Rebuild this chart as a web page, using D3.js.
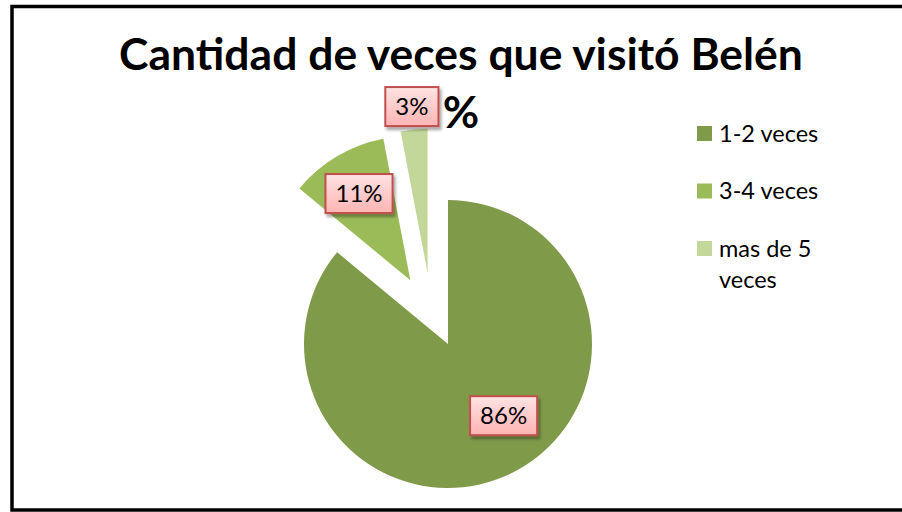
<!DOCTYPE html>
<html>
<head>
<meta charset="utf-8">
<script src="https://cdn.jsdelivr.net/npm/d3@7"></script>
<style>
  body { margin: 0; background: #fff; overflow: hidden; }
  text { font-family: Lato, "Open Sans", sans-serif; }
</style>
</head>
<body>
<svg id="chart" width="902" height="512"></svg>
<script>
// data
var categories = ["1-2 veces", "3-4 veces", "mas de 5 veces"];
var percents = [86, 11, 3];
var legendLines = [["1-2 veces"], ["3-4 veces"], ["mas de 5", "veces"]];
var colors = ["#7f9b4a", "#9bbb59", "#c4d79b"];
var titleLines = ["Cantidad de veces que visitó Belén", "%"];

var W = 902, H = 512;
var cx = 448, cy = 344, r = 144;
// explosion distance and a small turn of its direction, per slice
var explode = [0, 74, 74];
var explodeTurn = [0, 0, -0.185];
// label placement: radius factor and turn from the bisector
var labelR = [0.63, 0.7, 1.16];
var labelTurn = [-0.22, 0, 0];

var svg = d3.select("#chart");

var defs = svg.append("defs");
var grad = defs.append("linearGradient").attr("id", "lblfill")
  .attr("x1", 0).attr("y1", 0).attr("x2", 0).attr("y2", 1);
grad.append("stop").attr("offset", "0%").attr("stop-color", "#ffe3e3");
grad.append("stop").attr("offset", "100%").attr("stop-color", "#ffb4b4");
var shadow = defs.append("filter").attr("id", "shadow")
  .attr("x", "-20%").attr("y", "-20%").attr("width", "150%").attr("height", "160%");
shadow.append("feDropShadow").attr("dx", 2).attr("dy", 3)
  .attr("stdDeviation", 1.5).attr("flood-color", "#000").attr("flood-opacity", 0.35);

// frame
svg.append("rect")
  .attr("x", 12).attr("y", 6.5).attr("width", 900).attr("height", 503.5)
  .attr("fill", "none").attr("stroke", "#000").attr("stroke-width", 3.5);

// title, sized to span the same width as the picture
var title = svg.append("g");
var t1 = title.append("text")
  .attr("x", 461).attr("y", 70)
  .attr("text-anchor", "middle")
  .attr("font-weight", "bold")
  .attr("font-size", 40)
  .text(titleLines[0]);
var w1 = t1.node().getComputedTextLength();
var fs = 40 * 684 / w1;
t1.attr("font-size", fs);
title.append("text")
  .attr("x", 461).attr("y", 128)
  .attr("text-anchor", "middle")
  .attr("font-weight", "bold")
  .attr("font-size", fs)
  .text(titleLines[1]);

// pie
var pie = d3.pie().sort(null).value(function(d) { return d; });
var arcs = pie(percents);
var arc = d3.arc().innerRadius(0).outerRadius(r);

function shift(d, i) {
  var a = (d.startAngle + d.endAngle) / 2 + explodeTurn[i];
  return [Math.sin(a) * explode[i], -Math.cos(a) * explode[i]];
}

var g = svg.append("g").attr("transform", "translate(" + cx + "," + cy + ")");

g.selectAll("path.slice")
  .data(arcs)
  .enter().append("path")
  .attr("class", "slice")
  .attr("d", arc)
  .attr("fill", function(d, i) { return colors[i]; })
  .attr("transform", function(d, i) {
    var s = shift(d, i);
    return "translate(" + s[0] + "," + s[1] + ")";
  });

// data labels
var labels = g.selectAll("g.lbl")
  .data(arcs)
  .enter().append("g")
  .attr("class", "lbl")
  .attr("transform", function(d, i) {
    var s = shift(d, i);
    var a = (d.startAngle + d.endAngle) / 2 + labelTurn[i];
    var lr = r * labelR[i];
    return "translate(" + (Math.sin(a) * lr + s[0]) + "," + (-Math.cos(a) * lr + s[1]) + ")";
  });

labels.each(function(d) {
  var lg = d3.select(this);
  var txt = lg.append("text")
    .attr("text-anchor", "middle")
    .attr("dy", "0.36em")
    .attr("font-size", 24)
    .attr("fill", "#000")
    .text(d.data + "%");
  var tw = txt.node().getComputedTextLength();
  lg.insert("rect", "text")
    .attr("x", -tw / 2 - 10).attr("y", -19.5)
    .attr("width", tw + 20).attr("height", 39)
    .attr("fill", "url(#lblfill)")
    .attr("stroke", "#c0504d").attr("stroke-width", 2)
    .attr("filter", "url(#shadow)");
});

// legend
var legend = svg.append("g").attr("transform", "translate(697,126)");
var items = legend.selectAll("g")
  .data(categories)
  .enter().append("g")
  .attr("transform", function(d, i) { return "translate(0," + (i * 57.5) + ")"; });
items.append("rect")
  .attr("width", 15).attr("height", 15)
  .attr("fill", function(d, i) { return colors[i]; });
items.append("text")
  .attr("x", 22).attr("y", 15.5)
  .attr("font-size", 23.5)
  .attr("fill", "#000")
  .each(function(d, i) {
    var t = d3.select(this);
    legendLines[i].forEach(function(line, j) {
      t.append("tspan").attr("x", 22).attr("dy", j === 0 ? 0 : 31).text(line);
    });
  });
</script>
</body>
</html>
